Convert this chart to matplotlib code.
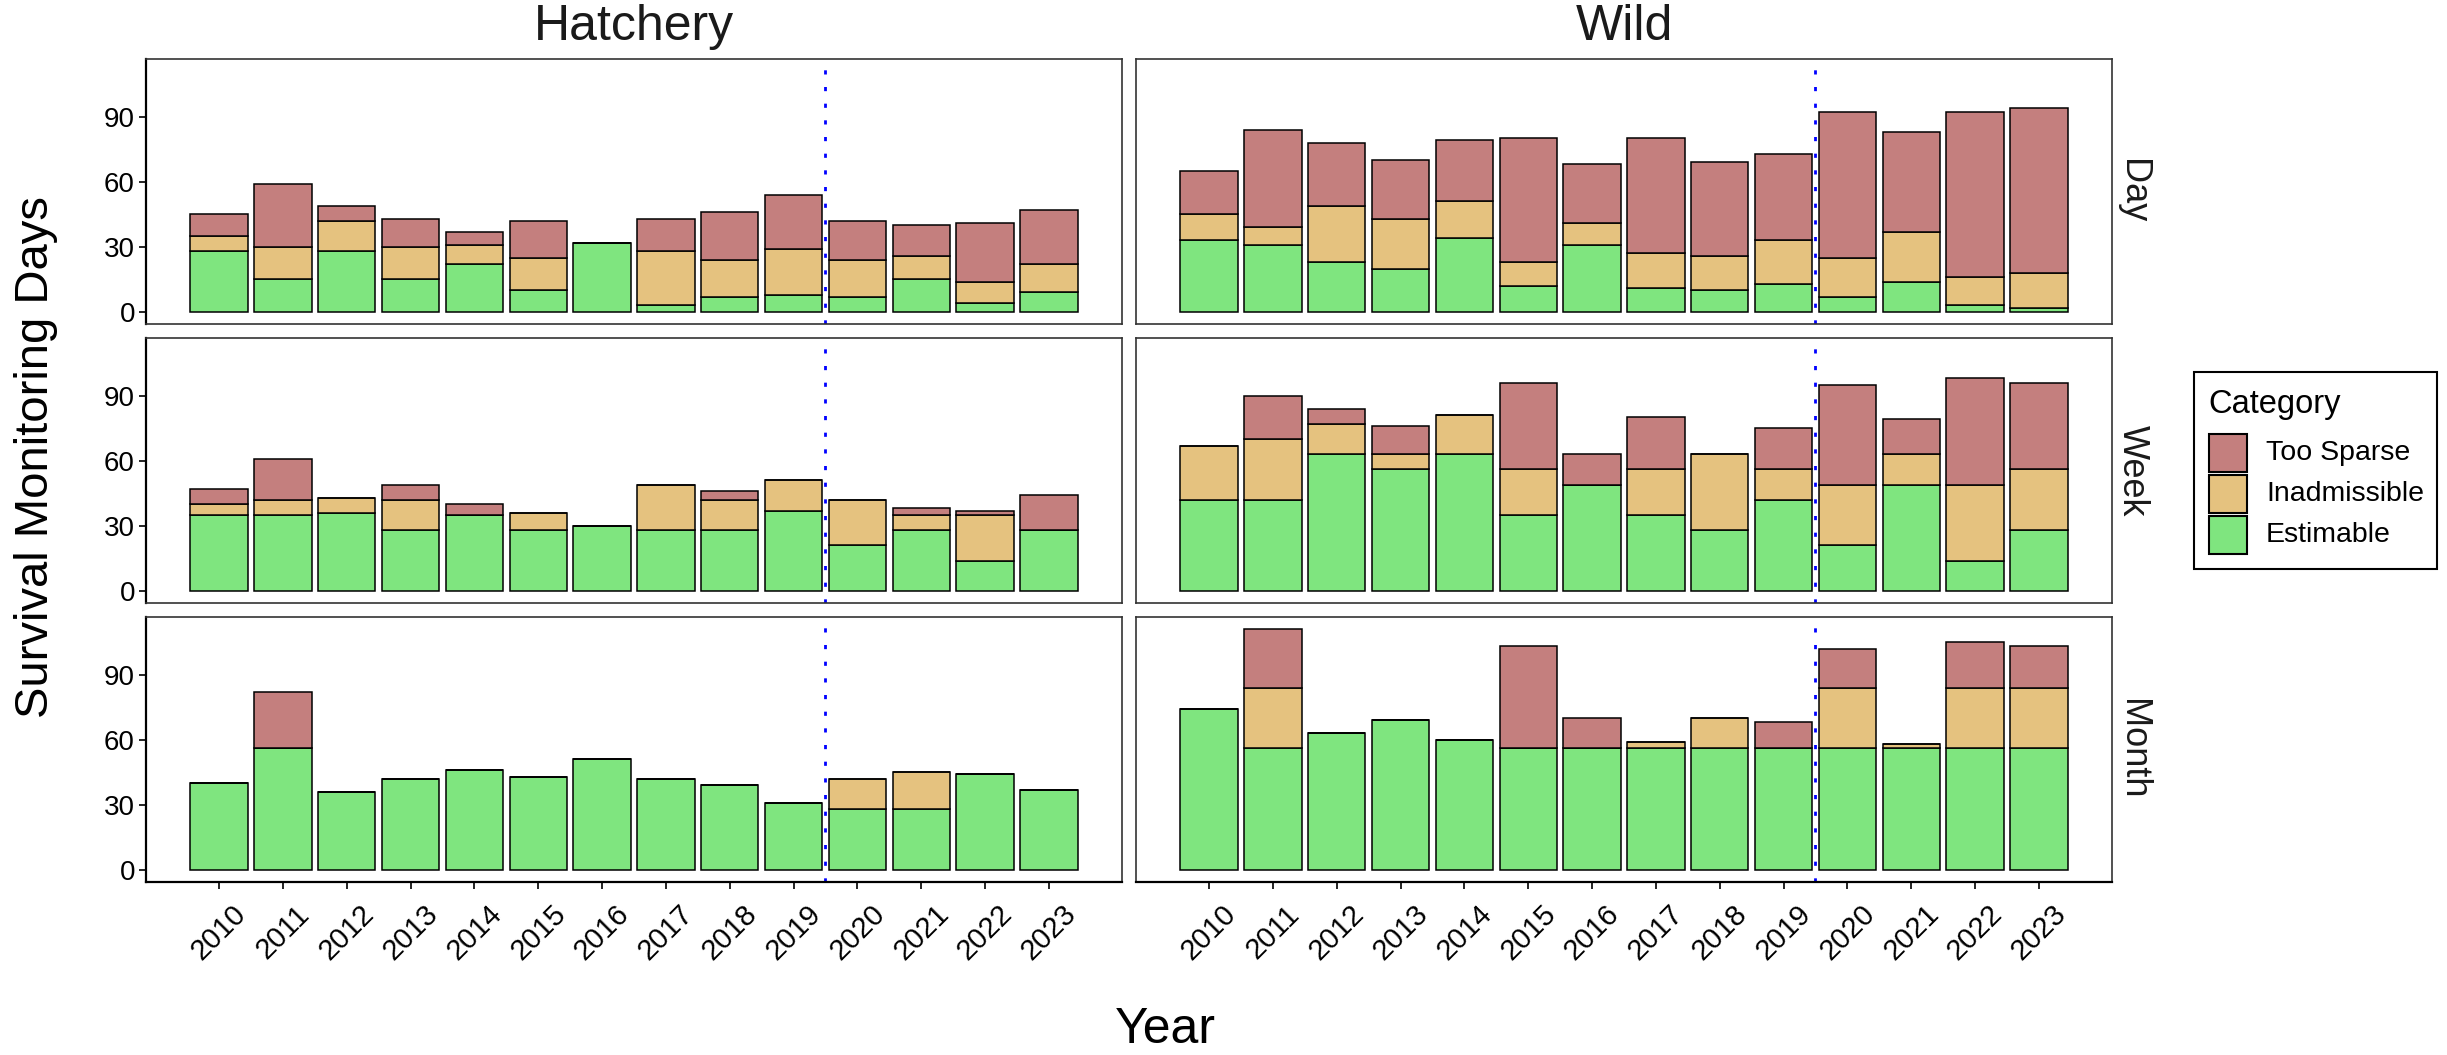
import numpy as np
import matplotlib
matplotlib.use("Agg")
import matplotlib.pyplot as plt
from matplotlib.patches import Rectangle

plt.rcParams['font.family'] = ['Liberation Sans', 'DejaVu Sans']

W, H = 2447, 1055

years = list(range(2010, 2024))
origins = ["Hatchery", "Wild"]
scales = ["Day", "Week", "Month"]
categories = ["Estimable", "Inadmissible", "Too Sparse"]
cat_colors = ["#7FE57F", "#E5C27F", "#C47F7E"]
split_year = 2019.5

# survival monitoring days per category (estimable, inadmissible, too sparse)
hatchery_day_est = [28, 15, 28, 15, 22, 10, 32, 3, 7, 8, 7, 15, 4, 9]
hatchery_day_inad = [7, 15, 14, 15, 9, 15, 0, 25, 17, 21, 17, 11, 10, 13]
hatchery_day_sparse = [10, 29, 7, 13, 6, 17, 0, 15, 22, 25, 18, 14, 27, 25]

wild_day_est = [33, 31, 23, 20, 34, 12, 31, 11, 10, 13, 7, 14, 3, 2]
wild_day_inad = [12, 8, 26, 23, 17, 11, 10, 16, 16, 20, 18, 23, 13, 16]
wild_day_sparse = [20, 45, 29, 27, 28, 57, 27, 53, 43, 40, 67, 46, 76, 76]

hatchery_week_est = [35, 35, 36, 28, 35, 28, 30, 28, 28, 37, 21, 28, 14, 28]
hatchery_week_inad = [5, 7, 7, 14, 0, 8, 0, 21, 14, 14, 21, 7, 21, 0]
hatchery_week_sparse = [7, 19, 0, 7, 5, 0, 0, 0, 4, 0, 0, 3, 2, 16]

wild_week_est = [42, 42, 63, 56, 63, 35, 49, 35, 28, 42, 21, 49, 14, 28]
wild_week_inad = [25, 28, 14, 7, 18, 21, 0, 21, 35, 14, 28, 14, 35, 28]
wild_week_sparse = [0, 20, 7, 13, 0, 40, 14, 24, 0, 19, 46, 16, 49, 40]

hatchery_month_est = [40, 56, 36, 42, 46, 43, 51, 42, 39, 31, 28, 28, 44, 37]
hatchery_month_inad = [0, 0, 0, 0, 0, 0, 0, 0, 0, 0, 14, 17, 0, 0]
hatchery_month_sparse = [0, 26, 0, 0, 0, 0, 0, 0, 0, 0, 0, 0, 0, 0]

wild_month_est = [74, 56, 63, 69, 60, 56, 56, 56, 56, 56, 56, 56, 56, 56]
wild_month_inad = [0, 28, 0, 0, 0, 0, 0, 3, 14, 0, 28, 2, 28, 28]
wild_month_sparse = [0, 27, 0, 0, 0, 47, 14, 0, 0, 12, 18, 0, 21, 19]

panels = {
    ("Hatchery", "Day"): (hatchery_day_est, hatchery_day_inad, hatchery_day_sparse),
    ("Wild", "Day"): (wild_day_est, wild_day_inad, wild_day_sparse),
    ("Hatchery", "Week"): (hatchery_week_est, hatchery_week_inad, hatchery_week_sparse),
    ("Wild", "Week"): (wild_week_est, wild_week_inad, wild_week_sparse),
    ("Hatchery", "Month"): (hatchery_month_est, hatchery_month_inad, hatchery_month_sparse),
    ("Wild", "Month"): (wild_month_est, wild_month_inad, wild_month_sparse),
}

ymax = max(np.sum(v, axis=0).max() for v in panels.values())
bar_w = 0.9
xpad = 0.05 * (years[-1] - years[0] + bar_w)

# panel boxes in pixels: columns (x0, x1), rows (y0, y1) from the top
cols_px = [(146, 1122), (1136, 2112)]
rows_px = [(59, 324), (338, 603), (617, 882)]

fig = plt.figure(figsize=(W / 100, H / 100), dpi=100)

for r, scale in enumerate(scales):
    for c, origin in enumerate(origins):
        x0, x1 = cols_px[c]
        y0, y1 = rows_px[r]
        ax = fig.add_axes([x0 / W, 1 - y1 / H, (x1 - x0) / W, (y1 - y0) / H])

        bottom = np.zeros(len(years))
        for vals, color in zip(panels[(origin, scale)], cat_colors):
            vals = np.array(vals, dtype=float)
            ax.bar(years, vals, width=bar_w, bottom=bottom, color=color,
                   edgecolor="black", linewidth=1.1)
            bottom += vals

        ax.axvline(split_year, color="blue", linewidth=2, linestyle=(0, (1.5, 4.5)))

        ax.set_xlim(years[0] - bar_w / 2 - xpad, years[-1] + bar_w / 2 + xpad)
        ax.set_ylim(-0.05 * ymax, 1.05 * ymax)
        ax.set_yticks([0, 30, 60, 90])
        ax.set_xticks(years)

        for sp in ax.spines.values():
            sp.set_color("#333333")
            sp.set_linewidth(1.2)

        if c == 0:
            ax.spines["left"].set_color("black")
            ax.spines["left"].set_linewidth(1.6)
            ax.tick_params(axis="y", length=5, width=1.2, pad=3, labelsize=20)
        else:
            ax.tick_params(axis="y", left=False, labelleft=False)

        if r == len(scales) - 1:
            ax.spines["bottom"].set_color("black")
            ax.spines["bottom"].set_linewidth(1.6)
            ax.tick_params(axis="x", length=5, width=1.2, pad=8, labelsize=21)
            ax.set_xticklabels([str(y) for y in years], rotation=45, ha="center", va="top")
        else:
            ax.tick_params(axis="x", bottom=False, labelbottom=False)

        # facet strips
        if r == 0:
            fig.text((x0 + x1) / 2 / W, 1 - 40 / H, origin, ha="center", va="baseline",
                     fontsize=36, color="#1a1a1a")
        if c == 1:
            fig.text(2132 / W, 1 - (y0 + y1) / 2 / H, scale, ha="center", va="center",
                     rotation=270, fontsize=26, color="#1a1a1a")

fig.text(36 / W, 1 - 457 / H, "Survival Monitoring Days", rotation=90,
         ha="center", va="center", fontsize=34)
fig.text(1165 / W, 1 - 1030 / H, "Year", ha="center", va="center", fontsize=36)

# legend box drawn in pixel coordinates
lax = fig.add_axes([0, 0, 1, 1])
lax.set_xlim(0, W)
lax.set_ylim(H, 0)
lax.axis("off")
lax.add_patch(Rectangle((2194, 372), 243, 197, facecolor="white",
                        edgecolor="black", linewidth=1.5))
lax.text(2208, 404, "Category", ha="left", va="center", fontsize=23.5)
for i, (lab, col) in enumerate(reversed(list(zip(categories, cat_colors)))):
    ky = 434 + i * 41
    lax.add_patch(Rectangle((2209, ky), 38, 38, facecolor=col,
                            edgecolor="black", linewidth=1.5))
    lax.text(2266, ky + 19, lab, ha="left", va="center", fontsize=20.5)

fig.savefig("out.png", dpi=100)
